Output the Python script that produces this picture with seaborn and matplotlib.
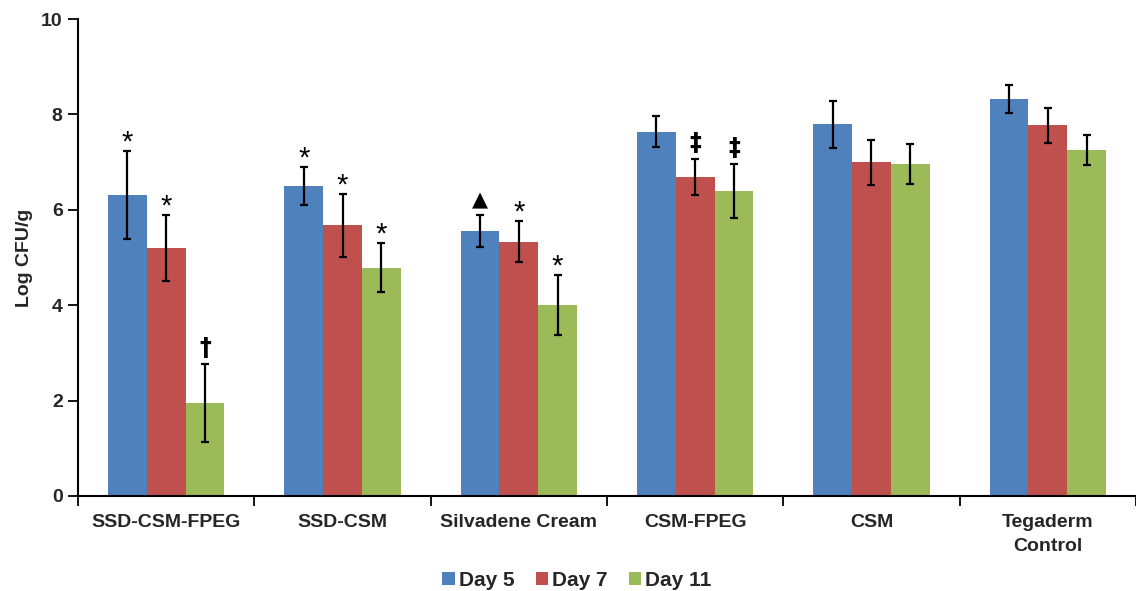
import matplotlib
matplotlib.use("Agg")
import matplotlib.pyplot as plt
import seaborn as sns
import pandas as pd
import numpy as np

categories = ["SSD-CSM-FPEG", "SSD-CSM", "Silvadene Cream", "CSM-FPEG", "CSM", "Tegaderm\nControl"]
days = ["Day 5", "Day 7", "Day 11"]
day5 = [6.31, 6.50, 5.56, 7.64, 7.79, 8.32]
day7 = [5.20, 5.68, 5.33, 6.69, 7.00, 7.77]
day11 = [1.95, 4.79, 4.00, 6.39, 6.96, 7.25]
err5 = [0.93, 0.39, 0.33, 0.33, 0.50, 0.30]
err7 = [0.69, 0.66, 0.43, 0.37, 0.47, 0.37]
err11 = [0.82, 0.51, 0.63, 0.57, 0.42, 0.31]
marks5 = ["*", "*", "\u25B2", "", "", ""]
marks7 = ["*", "*", "*", "\u2021", "", ""]
marks11 = ["\u2020", "*", "*", "\u2021", "", ""]
colors = ["#4F81BD", "#C0504D", "#9BBB59"]

sns.set_theme(style="white")
plt.rcParams['font.family'] = ['Liberation Sans', 'DejaVu Sans']

rows = []
for d, vals in zip(days, [day5, day7, day11]):
    for c, v in zip(categories, vals):
        rows.append({"Group": c, "Day": d, "Value": v})
df = pd.DataFrame(rows)

fig = plt.figure(figsize=(11.36, 5.91), dpi=100)
ax = fig.add_axes([78/1136, 1 - 496/591, (1136-78)/1136, (496-19)/591])

sns.barplot(data=df, x="Group", y="Value", hue="Day", order=categories, hue_order=days,
            palette=colors, width=0.66, errorbar=None, ax=ax, saturation=1,
            edgecolor="none", linewidth=0)

errs = [err5, err7, err11]
marks = [marks5, marks7, marks11]
vals_all = [day5, day7, day11]
bar_containers = list(ax.containers)
for i, cont in enumerate(bar_containers):
    xs = [p.get_x() + p.get_width() / 2 for p in cont.patches]
    ax.errorbar(xs, vals_all[i], yerr=errs[i], fmt="none", ecolor="black",
                elinewidth=1.6, capsize=3, capthick=1.6, zorder=5)
    for x, v, e, m in zip(xs, vals_all[i], errs[i], marks[i]):
        if m:
            if m == "*":
                ax.annotate(m, (x, v + e), xytext=(0, -4), textcoords="offset points",
                            ha="center", va="bottom", fontsize=21, color="black")
            elif m == "\u25B2":
                ax.annotate(m, (x, v + e), xytext=(0, 3), textcoords="offset points",
                            ha="center", va="bottom", fontsize=15, color="black",
                            family=['DejaVu Sans'])
            else:
                ax.annotate(m, (x, v + e), xytext=(0, 3), textcoords="offset points",
                            ha="center", va="bottom", fontsize=17, fontweight="bold",
                            color="black", family=['DejaVu Sans'])

ax.set_ylim(0, 10)
ax.set_xlim(-0.5, -0.5 + 1058/178)
ax.set_yticks([0, 2, 4, 6, 8, 10])
ax.set_yticklabels(["0", "2", "4", "6", "8", "10"], fontsize=14, fontweight="bold")
ax.set_xticks(range(len(categories)))
ax.set_xticklabels(categories, fontsize=14, fontweight="bold", linespacing=1.55)
ax.set_xticks(np.arange(-0.5, 6.0, 1.0), minor=True)
ax.tick_params(axis="x", which="major", length=0, pad=13)
ax.tick_params(axis="x", which="minor", length=7, width=1.3, color="black", direction="out", bottom=True)
ax.tick_params(axis="y", which="major", length=7, width=1.3, color="black", direction="out", left=True, pad=4)
ax.set_xlabel("")
ax.set_ylabel("Log CFU/g", fontsize=14, fontweight="bold", labelpad=6)

for s in ["top", "right"]:
    ax.spines[s].set_visible(False)
for s in ["left", "bottom"]:
    ax.spines[s].set_color("black")
    ax.spines[s].set_linewidth(1.5)

leg = ax.legend(loc="center", bbox_to_anchor=(577/1136, 1 - 580/591), bbox_transform=fig.transFigure,
                ncol=3, frameon=False, fontsize=15, handlelength=0.6, handleheight=0.6,
                handletextpad=0.2, columnspacing=1.0, borderaxespad=0.0, borderpad=0.0)
for t in leg.get_texts():
    t.set_fontweight("bold")

fig.savefig("out.png", dpi=100)
